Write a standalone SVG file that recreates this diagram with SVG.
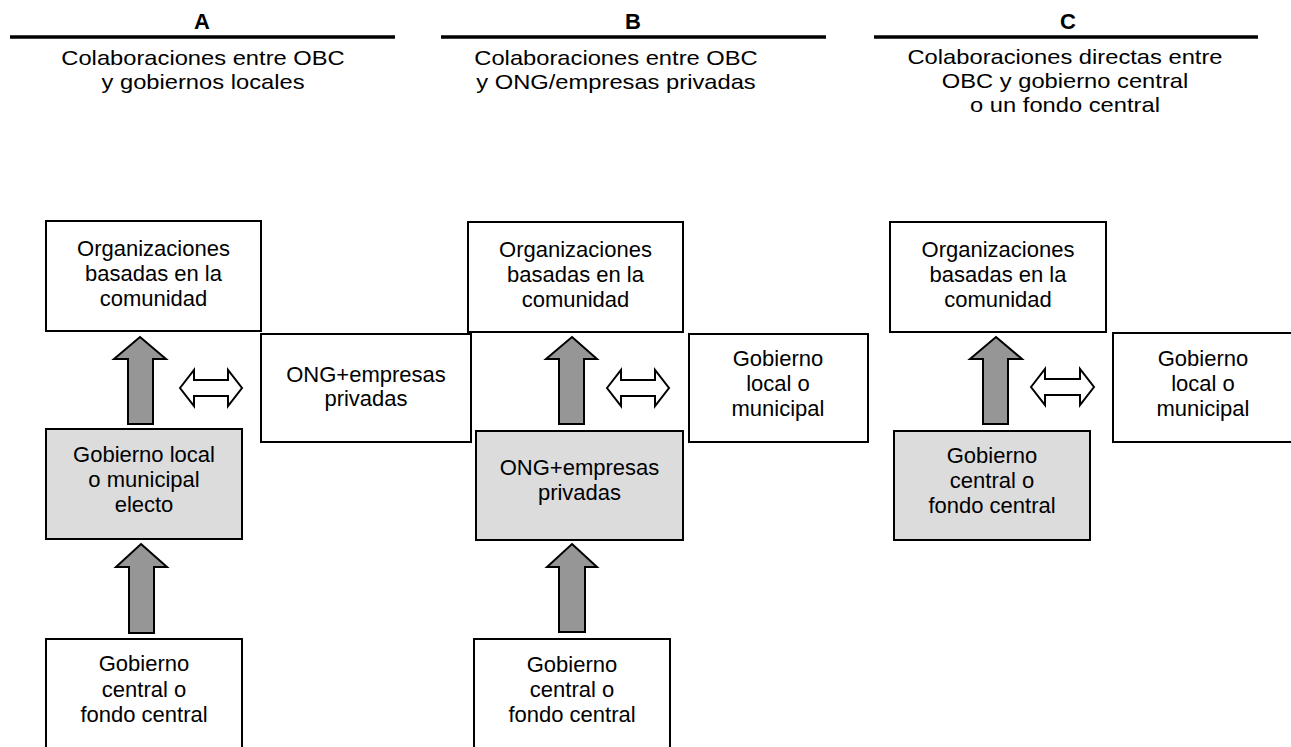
<svg xmlns="http://www.w3.org/2000/svg" width="1291" height="747" viewBox="0 0 1291 747">
<style>
text{font-family:"Liberation Sans",Arial,sans-serif;fill:#000;text-anchor:middle}
.t{font-size:22px;font-weight:bold}
.s{font-size:21px}
.n{font-size:22px}
.hl{stroke:#000;stroke-width:3.5}
.box{fill:#fff;stroke:#000;stroke-width:2}
.gbox{fill:#dcdcdc;stroke:#000;stroke-width:2}
.up{fill:#969696;stroke:#000;stroke-width:2;stroke-linejoin:miter}
.dbl{fill:#fff;stroke:#000;stroke-width:2}
</style>
<rect width="1291" height="747" fill="#fff"/>
<g id="headerA">
<text class="t" x="202" y="29">A</text>
<line class="hl" x1="10" y1="37" x2="395" y2="37"/>
<g transform="translate(203,0) scale(1.13,1)">
<text class="s" x="0" y="65">Colaboraciones entre OBC</text>
<text class="s" x="0" y="89">y gobiernos locales</text>
</g>
</g>
<g id="headerB">
<text class="t" x="633" y="29">B</text>
<line class="hl" x1="441" y1="37" x2="826" y2="37"/>
<g transform="translate(616,0) scale(1.13,1)">
<text class="s" x="0" y="65">Colaboraciones entre OBC</text>
<text class="s" x="0" y="89">y ONG/empresas privadas</text>
</g>
</g>
<g id="headerC">
<text class="t" x="1068" y="29">C</text>
<line class="hl" x1="874" y1="37" x2="1258" y2="37"/>
<g transform="translate(1065,0) scale(1.13,1)">
<text class="s" x="0" y="64">Colaboraciones directas entre</text>
<text class="s" x="0" y="88">OBC y gobierno central</text>
<text class="s" x="0" y="112">o un fondo central</text>
</g>
</g>
<g id="A-obc">
<rect class="box" x="46" y="221" width="215" height="110"/>
<text class="n" x="153.5" y="256">Organizaciones</text>
<text class="n" x="153.5" y="281">basadas en la</text>
<text class="n" x="153.5" y="306">comunidad</text>
</g>
<g id="A-ong">
<rect class="box" x="261" y="334" width="210" height="108"/>
<text class="n" x="366" y="382">ONG+empresas</text>
<text class="n" x="366" y="406">privadas</text>
</g>
<g id="A-local">
<rect class="gbox" x="46" y="429" width="196" height="110"/>
<text class="n" x="144" y="462">Gobierno local</text>
<text class="n" x="144" y="487">o municipal</text>
<text class="n" x="144" y="512">electo</text>
</g>
<g id="A-central">
<rect class="box" x="46" y="639" width="196" height="130"/>
<text class="n" x="144" y="671">Gobierno</text>
<text class="n" x="144" y="697">central o</text>
<text class="n" x="144" y="722">fondo central</text>
</g>
<g id="B-obc">
<rect class="box" x="468" y="222" width="215" height="110"/>
<text class="n" x="575.5" y="257">Organizaciones</text>
<text class="n" x="575.5" y="282">basadas en la</text>
<text class="n" x="575.5" y="307">comunidad</text>
</g>
<g id="B-local">
<rect class="box" x="689" y="334" width="179" height="108"/>
<text class="n" x="778" y="366">Gobierno</text>
<text class="n" x="778" y="391">local o</text>
<text class="n" x="778" y="416">municipal</text>
</g>
<g id="B-ong">
<rect class="gbox" x="476" y="431" width="207" height="109"/>
<text class="n" x="579.5" y="475">ONG+empresas</text>
<text class="n" x="579.5" y="500">privadas</text>
</g>
<g id="B-central">
<rect class="box" x="474" y="639" width="196" height="130"/>
<text class="n" x="572" y="672">Gobierno</text>
<text class="n" x="572" y="697">central o</text>
<text class="n" x="572" y="722">fondo central</text>
</g>
<g id="C-obc">
<rect class="box" x="890" y="222" width="216" height="110"/>
<text class="n" x="998" y="257">Organizaciones</text>
<text class="n" x="998" y="282">basadas en la</text>
<text class="n" x="998" y="307">comunidad</text>
</g>
<g id="C-local">
<rect class="box" x="1113" y="333" width="180" height="109"/>
<text class="n" x="1203" y="366">Gobierno</text>
<text class="n" x="1203" y="391">local o</text>
<text class="n" x="1203" y="416">municipal</text>
</g>
<g id="C-central">
<rect class="gbox" x="894" y="431" width="196" height="109"/>
<text class="n" x="992" y="463">Gobierno</text>
<text class="n" x="992" y="488">central o</text>
<text class="n" x="992" y="513">fondo central</text>
</g>
<g id="connectors">
<path class="up" d="M140,337 L166,359 L153,359 L153,424 L128,424 L128,359 L114,359 Z"/>
<path class="up" d="M141,544 L167,567 L154,567 L154,633 L129,633 L129,567 L116,567 Z"/>
<path class="up" d="M572,337 L597,359 L584,359 L584,424 L559,424 L559,359 L546,359 Z"/>
<path class="up" d="M572,544 L597,567 L585,567 L585,632 L559,632 L559,567 L547,567 Z"/>
<path class="up" d="M996,337 L1022,359 L1008,359 L1008,424 L983,424 L983,359 L970,359 Z"/>
<path class="dbl" d="M180,388 L194,370 L194,380 L228,380 L228,370 L242,388 L228,406 L228,396 L194,396 L194,406 Z"/>
<path class="dbl" d="M607,388 L621,370 L621,380 L655,380 L655,370 L669,388 L655,406 L655,396 L621,396 L621,406 Z"/>
<path class="dbl" d="M1031,387 L1045,369 L1045,379 L1080,379 L1080,369 L1094,387 L1080,405 L1080,395 L1045,395 L1045,405 Z"/>
</g>
</svg>
